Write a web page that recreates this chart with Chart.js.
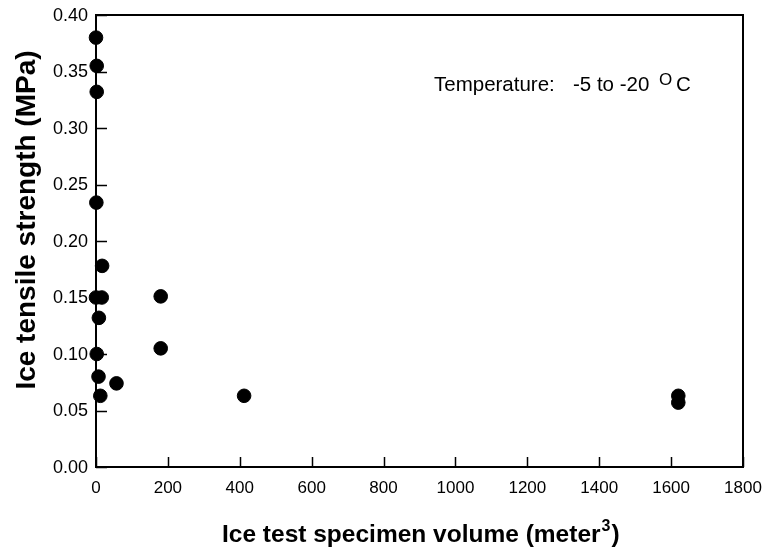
<!DOCTYPE html>
<html>
<head>
<meta charset="utf-8">
<script src="https://cdn.jsdelivr.net/npm/chart.js@4.4.1/dist/chart.umd.min.js"></script>
<style>
  html, body { margin: 0; padding: 0; background: #fff; }
  #wrap { width: 767px; height: 550px; position: relative; }
</style>
</head>
<body>
<div id="wrap"><canvas id="mainChart"></canvas></div>
<script>
// specimen volume (m^3) and tensile strength (MPa)
const volumes = [0, 2, 2, 1, 17, 0, 16, 8, 2, 7, 12, 57, 180, 180, 412, 1620, 1620];
const strengths = [0.38, 0.355, 0.332, 0.234, 0.178, 0.15, 0.15, 0.132, 0.10, 0.08, 0.063, 0.074, 0.151, 0.105, 0.063, 0.063, 0.057];
const xTicks = [0, 200, 400, 600, 800, 1000, 1200, 1400, 1600, 1800];
const yTicks = [0, 0.05, 0.10, 0.15, 0.20, 0.25, 0.30, 0.35, 0.40];

const points = volumes.map((v, i) => ({ x: v, y: strengths[i] }));
const FONT = '"Liberation Sans", Arial, sans-serif';

// frame, inward tick marks, tick labels, axis titles and the temperature note
const framePlugin = {
  id: 'frame',
  afterDraw(chart) {
    const { ctx, chartArea: a, scales } = chart;
    ctx.save();
    ctx.strokeStyle = '#000';
    ctx.fillStyle = '#000';
    ctx.lineWidth = 2;
    ctx.strokeRect(a.left, a.top, a.right - a.left, a.bottom - a.top);

    ctx.lineWidth = 1.5;
    ctx.beginPath();
    xTicks.forEach((t) => {
      const px = Math.round(scales.x.getPixelForValue(t)) + 0.5;
      ctx.moveTo(px, a.bottom);
      ctx.lineTo(px, a.bottom - 10);
    });
    yTicks.forEach((t) => {
      const py = Math.round(scales.y.getPixelForValue(t)) + 0.5;
      ctx.moveTo(a.left, py);
      ctx.lineTo(a.left + 11, py);
    });
    ctx.stroke();

    // tick labels
    ctx.font = '17px ' + FONT;
    ctx.textAlign = 'center';
    ctx.textBaseline = 'middle';
    xTicks.forEach((t) => {
      ctx.fillText(String(t), scales.x.getPixelForValue(t), a.bottom + 21);
    });
    ctx.font = '18px ' + FONT;
    ctx.textAlign = 'right';
    yTicks.forEach((t) => {
      ctx.fillText(t.toFixed(2), a.left - 8, scales.y.getPixelForValue(t) + 1);
    });

    // y title
    ctx.save();
    ctx.translate(35, 220);
    ctx.rotate(-Math.PI / 2);
    ctx.font = 'bold 28px ' + FONT;
    ctx.textAlign = 'center';
    ctx.textBaseline = 'alphabetic';
    ctx.fillText('Ice tensile strength (MPa)', 0, 0);
    ctx.restore();

    // x title with superscript
    ctx.textAlign = 'left';
    ctx.textBaseline = 'alphabetic';
    ctx.font = 'bold 24.5px ' + FONT;
    const main = 'Ice test specimen volume (meter';
    const wMain = ctx.measureText(main).width;
    ctx.font = 'bold 16px ' + FONT;
    const wSup = ctx.measureText('3').width;
    const x0 = 222;
    const by = 542;
    ctx.font = 'bold 24.5px ' + FONT;
    ctx.fillText(main, x0, by);
    ctx.font = 'bold 16px ' + FONT;
    ctx.fillText('3', x0 + wMain + 1, by - 11);
    ctx.font = 'bold 24.5px ' + FONT;
    ctx.fillText(')', x0 + wMain + wSup + 2, by);

    // temperature note
    ctx.font = '20.5px ' + FONT;
    ctx.fillText('Temperature:', 434, 91);
    ctx.fillText('-5 to -20', 573, 91);
    ctx.font = '17px ' + FONT;
    ctx.fillText('O', 659, 85);
    ctx.font = '20.5px ' + FONT;
    ctx.fillText('C', 676, 91);
    ctx.restore();
  },
};

new Chart(document.getElementById('mainChart').getContext('2d'), {
  type: 'scatter',
  data: {
    datasets: [
      {
        label: 'Ice tensile strength',
        data: points,
        backgroundColor: '#000',
        borderColor: '#000',
        pointRadius: 6.8,
        pointHoverRadius: 6.8,
        clip: false,
      },
    ],
  },
  options: {
    responsive: true,
    maintainAspectRatio: false,
    animation: false,
    layout: { padding: { top: 15, right: 24, left: 0, bottom: 0 } },
    plugins: {
      legend: { display: false },
      tooltip: { enabled: false },
    },
    scales: {
      x: {
        type: 'linear',
        min: 0,
        max: 1800,
        afterFit: (scale) => { scale.height = 83; },
        grid: { display: false, drawTicks: false },
        border: { display: false },
        ticks: { display: false },
      },
      y: {
        type: 'linear',
        min: 0,
        max: 0.4,
        afterFit: (scale) => { scale.width = 96; },
        grid: { display: false, drawTicks: false },
        border: { display: false },
        ticks: { display: false },
      },
    },
  },
  plugins: [framePlugin],
});
</script>
</body>
</html>
